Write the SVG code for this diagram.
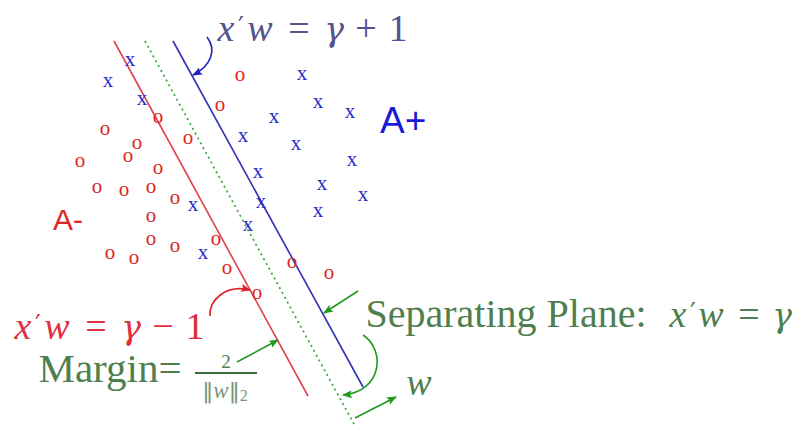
<svg xmlns="http://www.w3.org/2000/svg" width="798" height="426" viewBox="0 0 798 426">
<style>
.pt{font-family:"Liberation Serif",serif;font-size:21px;text-anchor:middle}
.px{fill:#2a2ac8}
.po{fill:#e02424}
.math{font-family:"Liberation Serif",serif;font-size:38px;text-anchor:middle}
.it{font-style:italic}
.gm{font-family:"DejaVu Serif",serif;font-style:italic;font-size:33px}
.pr{font-family:"DejaVu Sans",sans-serif;font-size:26px}
.green{fill:#4f7f4f}
.conn{fill:none;stroke-width:1.6}
</style>
<defs>
<marker id="ab" viewBox="0 0 10 8" refX="9" refY="4" markerWidth="10" markerHeight="8" markerUnits="userSpaceOnUse" orient="auto"><path d="M0,0 L10,4 L0,8 L2,4 z" fill="#2020c0"/></marker>
<marker id="ar" viewBox="0 0 10 8" refX="9" refY="4" markerWidth="10" markerHeight="8" markerUnits="userSpaceOnUse" orient="auto"><path d="M0,0 L10,4 L0,8 L2,4 z" fill="#e0202a"/></marker>
<marker id="ag" viewBox="0 0 10 8" refX="9" refY="4" markerWidth="10" markerHeight="8" markerUnits="userSpaceOnUse" orient="auto"><path d="M0,0 L10,4 L0,8 L2,4 z" fill="#1f9a1f"/></marker>
</defs>
<rect width="798" height="426" fill="#ffffff"/>

<g id="planes">
<line x1="114" y1="41" x2="308" y2="396" stroke="#e0404c" stroke-width="1.6"/>
<line x1="145" y1="41" x2="355" y2="426" stroke="#33a833" stroke-width="1.7" stroke-dasharray="2 3.5"/>
<line x1="173" y1="41" x2="363" y2="387" stroke="#3030b8" stroke-width="1.6"/>
</g>

<g id="class-minus" class="pt po">
<text x="240" y="81">o</text>
<text x="220" y="111">o</text>
<text x="158" y="123">o</text>
<text x="105" y="135">o</text>
<text x="188" y="144">o</text>
<text x="137" y="149">o</text>
<text x="128" y="162">o</text>
<text x="80" y="167">o</text>
<text x="158" y="174">o</text>
<text x="97" y="193">o</text>
<text x="124" y="196">o</text>
<text x="151" y="193">o</text>
<text x="175" y="204">o</text>
<text x="151" y="222">o</text>
<text x="151" y="245">o</text>
<text x="175" y="252">o</text>
<text x="110" y="259">o</text>
<text x="134" y="264">o</text>
<text x="216" y="245">o</text>
<text x="227" y="274">o</text>
<text x="257" y="299">o</text>
<text x="292" y="268">o</text>
<text x="329" y="279">o</text>
</g>

<g id="class-plus" class="pt px">
<text x="108" y="87">x</text>
<text x="130" y="66">x</text>
<text x="142" y="105">x</text>
<text x="302" y="80">x</text>
<text x="274" y="123">x</text>
<text x="318" y="108">x</text>
<text x="350" y="118">x</text>
<text x="243" y="142">x</text>
<text x="296" y="150">x</text>
<text x="352" y="166">x</text>
<text x="258" y="178">x</text>
<text x="322" y="190">x</text>
<text x="363" y="201">x</text>
<text x="261" y="208">x</text>
<text x="318" y="217">x</text>
<text x="193" y="211">x</text>
<text x="248" y="231">x</text>
<text x="203" y="259">x</text>
</g>

<g id="label-aplus"><text x="380" y="133" font-family="'Liberation Sans',Arial,sans-serif" font-size="37" fill="#1a1ad8">A+</text></g>
<g id="label-aminus"><text x="53" y="230" font-family="'Liberation Sans',Arial,sans-serif" font-size="30" fill="#e02424">A-</text></g>

<g id="label-plus-plane"><text class="math" y="41" fill="#52548e"><tspan class="it" x="226">x</tspan><tspan class="pr" x="241" y="36">′</tspan><tspan class="it" x="260" y="41">w</tspan><tspan x="299">=</tspan><tspan class="gm" x="334">γ</tspan><tspan x="366">+</tspan><tspan x="398">1</tspan></text></g>

<g id="label-minus-plane"><text class="math" y="339" fill="#e03040"><tspan class="it" x="23">x</tspan><tspan class="pr" x="38" y="334">′</tspan><tspan class="it" x="57" y="339">w</tspan><tspan x="96">=</tspan><tspan class="gm" x="131">γ</tspan><tspan x="163">−</tspan><tspan x="195">1</tspan></text></g>

<g id="label-separating"><text class="math green" y="327"><tspan x="506" font-size="40">Separating Plane:</tspan><tspan class="it" x="678">x</tspan><tspan class="pr" x="693" y="322">′</tspan><tspan class="it" x="711" y="327">w</tspan><tspan x="749">=</tspan><tspan class="gm" x="782">γ</tspan></text></g>

<g id="label-margin">
<text class="math green" x="110" y="382" style="font-size:41px">Margin=</text>
<text x="226" y="368" font-family="'Liberation Serif',serif" font-size="19" fill="#4f7f4f" text-anchor="middle">2</text>
<line x1="195" y1="373" x2="257" y2="373" stroke="#3d6b3d" stroke-width="2"/>
<text x="225" y="398" font-family="'Liberation Serif',serif" font-size="23" fill="#7a967a" text-anchor="middle"><tspan font-family="'DejaVu Sans',sans-serif" font-size="22">‖</tspan><tspan font-style="italic">w</tspan><tspan font-family="'DejaVu Sans',sans-serif" font-size="22">‖</tspan><tspan font-size="16" dy="3">2</tspan></text>
</g>
<g id="label-w"><text class="math green it" x="419" y="395">w</text></g>

<g id="connectors">
<path class="conn" d="M207 37 C217 50 211 66 193 75" stroke="#2020c0" marker-end="url(#ab)"/>
<path class="conn" d="M210 316 C209 300 226 284 250 290" stroke="#e0202a" marker-end="url(#ar)"/>
<path class="conn" d="M237 362 L278 340" stroke="#1f9a1f" marker-end="url(#ag)"/>
<path class="conn" d="M358 291 L324 313" stroke="#1f9a1f" marker-end="url(#ag)"/>
<path class="conn" d="M363 335 C386 350 382 392 343 395" stroke="#1f9a1f" marker-end="url(#ag)"/>
<path class="conn" d="M355 418 L396 397" stroke="#1f9a1f" marker-end="url(#ag)"/>
</g>
</svg>
